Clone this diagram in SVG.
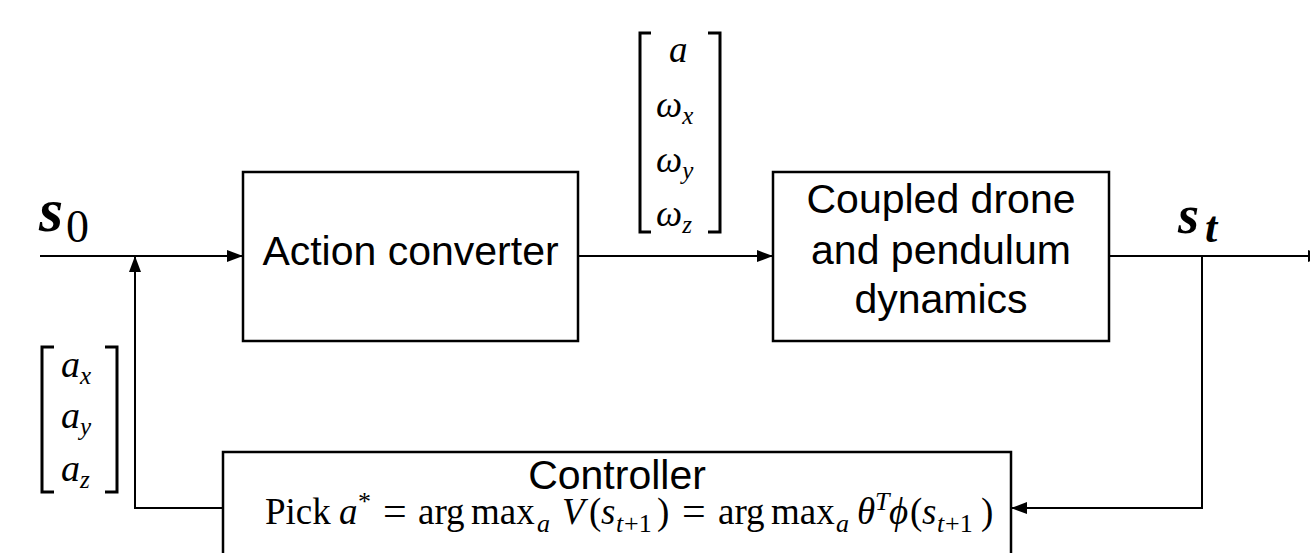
<svg xmlns="http://www.w3.org/2000/svg" width="1310" height="553" viewBox="0 0 1310 553">
  <style>
    .box { fill: #ffffff; stroke: #000000; stroke-width: 2.5; }
    .wire { fill: none; stroke: #000000; stroke-width: 2; }
    .brk { fill: none; stroke: #000000; stroke-width: 3; }
    .lbl { font-family: "Liberation Sans", Arial, sans-serif; font-size: 41px; fill: #000000; }
    .math { font-family: "Liberation Serif", "Times New Roman", serif; fill: #000000; }
    .it { font-style: italic; }
    .sm { font-size: 26px; }
    .eq { font-size: 42px; }
  </style>
  <defs>
    <marker id="arrow" markerWidth="16" markerHeight="12" refX="16" refY="6" orient="auto" markerUnits="userSpaceOnUse">
      <path d="M0,0 L16,6 L0,12 Z" fill="#000000"/>
    </marker>
  </defs>

  <rect width="1310" height="553" fill="#ffffff"/>

  <!-- connectors -->
  <g id="connectors">
    <line class="wire" x1="40" y1="256" x2="243" y2="256" marker-end="url(#arrow)"/>
    <polyline class="wire" points="223,508 135,508 135,256" marker-end="url(#arrow)"/>
    <line class="wire" x1="578" y1="256" x2="773" y2="256" marker-end="url(#arrow)"/>
    <line class="wire" x1="1109" y1="256" x2="1324" y2="256" marker-end="url(#arrow)"/>
    <polyline class="wire" points="1202,256 1202,508 1011,508" marker-end="url(#arrow)"/>
  </g>

  <!-- state labels -->
  <g id="label-s0" class="math">
    <text x="39" y="231" class="it" font-size="62" font-weight="bold">s</text>
    <text x="66" y="242" font-size="46">0</text>
  </g>
  <g id="label-st" class="math">
    <text x="1178" y="233" class="it" font-size="54" font-weight="bold">s</text>
    <text x="1205" y="242" class="it" font-size="44" font-weight="bold">t</text>
  </g>

  <!-- action vector passed to the dynamics -->
  <g id="vector-omega">
    <path class="brk" d="M651,33 H640 V232 H651"/>
    <path class="brk" d="M708,33 H720 V232 H708"/>
    <text class="math it" font-size="37" x="669" y="62">a</text>
    <text class="math it" font-size="37" x="656" y="117">ω<tspan font-size="25" dy="7">x</tspan></text>
    <text class="math it" font-size="37" x="656" y="172">ω<tspan font-size="25" dy="7">y</tspan></text>
    <text class="math it" font-size="37" x="656" y="226">ω<tspan font-size="25" dy="7">z</tspan></text>
  </g>

  <!-- acceleration vector from the controller -->
  <g id="vector-accel">
    <path class="brk" d="M54,347 H42 V492 H54"/>
    <path class="brk" d="M105,347 H117 V492 H105"/>
    <text class="math it" font-size="38" x="61" y="377">a<tspan font-size="25" dy="7">x</tspan></text>
    <text class="math it" font-size="38" x="61" y="428">a<tspan font-size="25" dy="7">y</tspan></text>
    <text class="math it" font-size="38" x="61" y="481">a<tspan font-size="25" dy="7">z</tspan></text>
  </g>

  <!-- blocks -->
  <g id="node-action-converter">
    <rect class="box" x="243" y="172" width="335" height="169"/>
    <text class="lbl" x="410.5" y="265" text-anchor="middle">Action converter</text>
  </g>

  <g id="node-dynamics">
    <rect class="box" x="773" y="172" width="336" height="169"/>
    <text class="lbl" x="941" y="213" text-anchor="middle">Coupled drone</text>
    <text class="lbl" x="941" y="264" text-anchor="middle">and pendulum</text>
    <text class="lbl" x="941" y="313" text-anchor="middle">dynamics</text>
  </g>

  <g id="node-controller">
    <rect class="box" x="223" y="452" width="788" height="160"/>
    <text class="lbl" x="617" y="489" text-anchor="middle">Controller</text>
    <!-- policy: greedy action w.r.t. the linear value estimate -->
    <text class="math" font-size="37" y="524">
      <tspan x="265">Pick</tspan>
      <tspan x="339" class="it">a</tspan>
      <tspan x="358" y="510" class="sm">*</tspan>
      <tspan x="383" y="525" class="eq">=</tspan>
      <tspan x="418" y="524">arg</tspan>
      <tspan x="471">max</tspan>
      <tspan x="537" y="532" class="it sm">a</tspan>
      <tspan x="562" y="524" class="it">V</tspan>
      <tspan x="589">(</tspan>
      <tspan x="601" class="it">s</tspan>
      <tspan x="616" y="532" class="it sm">t</tspan>
      <tspan x="624" class="sm">+1</tspan>
      <tspan x="657" y="524">)</tspan>
      <tspan x="682" y="525" class="eq">=</tspan>
      <tspan x="718" y="524">arg</tspan>
      <tspan x="771">max</tspan>
      <tspan x="836" y="532" class="it sm">a</tspan>
      <tspan x="857" y="524" class="it">θ</tspan>
      <tspan x="875" y="510" class="it sm">T</tspan>
      <tspan x="889" y="524" class="it">ϕ</tspan>
      <tspan x="910">(</tspan>
      <tspan x="922" class="it">s</tspan>
      <tspan x="937" y="532" class="it sm">t</tspan>
      <tspan x="945" class="sm">+1</tspan>
      <tspan x="981" y="524">)</tspan>
    </text>
  </g>
</svg>
